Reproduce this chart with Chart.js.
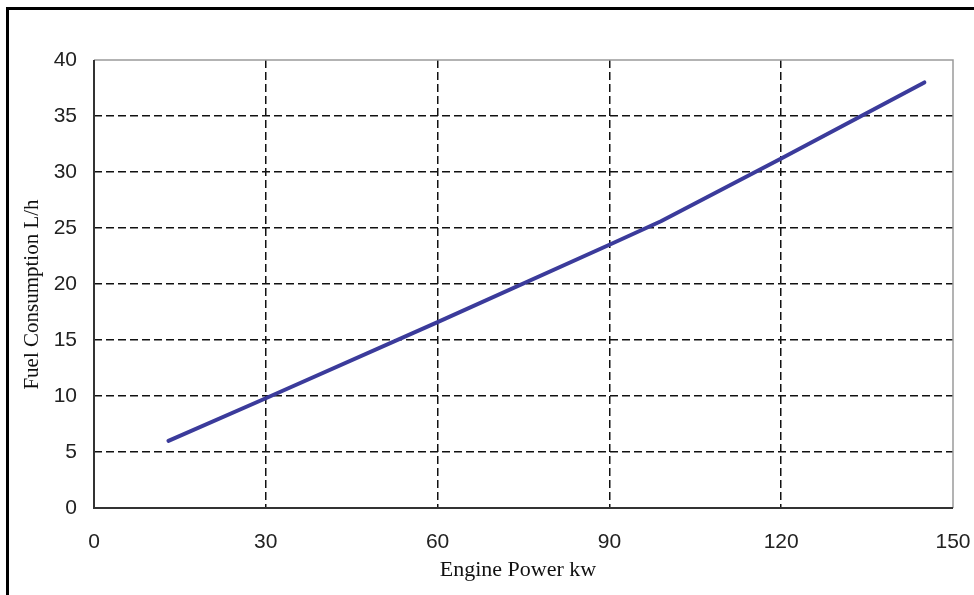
<!DOCTYPE html>
<html>
<head>
<meta charset="utf-8">
<script src="https://cdn.jsdelivr.net/npm/chart.js@4.4.1/dist/chart.umd.min.js"></script>
<style>
  html, body { margin: 0; padding: 0; background: #fff; overflow: hidden; }
  #frame { position: absolute; left: 6px; top: 7px; width: 990px; height: 610px;
           border-left: 3px solid #000; border-top: 3px solid #000; }
  #wrap { position: absolute; left: 0; top: 0; width: 974px; height: 595px; }
</style>
</head>
<body>
<div id="frame"></div>
<div id="wrap"><canvas id="c" width="974" height="595"></canvas></div>
<script>
const enginePower = [13, 30, 60, 90, 99, 120, 145];
const fuelConsumption = [6, 9.8, 16.6, 23.5, 25.6, 31.2, 38];
const xTicks = [0, 30, 60, 90, 120, 150];
const yTicks = [0, 5, 10, 15, 20, 25, 30, 35, 40];
const xTitle = 'Engine Power kw';
const yTitle = 'Fuel Consumption L/h';

const points = enginePower.map((p, i) => ({ x: p, y: fuelConsumption[i] }));

const plotFrame = {
  id: 'plotFrame',
  afterDraw(chart) {
    const { ctx, chartArea: a } = chart;
    ctx.save();
    ctx.strokeStyle = '#9a9a9a';
    ctx.lineWidth = 1.5;
    ctx.beginPath();
    ctx.moveTo(a.left, a.top);
    ctx.lineTo(a.right, a.top);
    ctx.lineTo(a.right, a.bottom);
    ctx.stroke();
    ctx.strokeStyle = '#333';
    ctx.lineWidth = 2;
    ctx.beginPath();
    ctx.moveTo(a.left, a.top);
    ctx.lineTo(a.left, a.bottom);
    ctx.lineTo(a.right, a.bottom);
    ctx.stroke();
    ctx.restore();
  }
};

const gridColor = (ctx, list) => {
  const v = ctx.tick ? ctx.tick.value : null;
  return (v === list[0] || v === list[list.length - 1]) ? 'rgba(0,0,0,0)' : '#111';
};

new Chart(document.getElementById('c'), {
  type: 'scatter',
  data: {
    datasets: [{
      data: points,
      showLine: true,
      borderColor: '#3b3b9b',
      backgroundColor: '#3b3b9b',
      borderWidth: 4,
      pointRadius: 0,
      borderCapStyle: 'round',
      borderJoinStyle: 'round',
      tension: 0
    }]
  },
  options: {
    responsive: false,
    devicePixelRatio: 1,
    animation: false,
    layout: { padding: { left: 20, top: 60, right: 21, bottom: 0 } },
    plugins: { legend: { display: false }, tooltip: { enabled: false } },
    scales: {
      x: {
        type: 'linear',
        min: xTicks[0], max: xTicks[xTicks.length - 1],
        afterBuildTicks: s => { s.ticks = xTicks.map(v => ({ value: v })); },
        afterFit: s => { s.height = 87; s.paddingLeft = 0; s.paddingRight = 0; },
        ticks: { font: { family: 'Liberation Sans', size: 21 }, color: '#222', padding: 22, maxRotation: 0 },
        grid: { drawTicks: false, color: c => gridColor(c, xTicks), lineWidth: 1.5 },
        border: { display: false, dash: [8, 4] },
        title: { display: true, text: xTitle + '  ', color: '#111',
                 font: { family: 'Liberation Serif', size: 22 }, padding: { top: 12, bottom: 12 } }
      },
      y: {
        type: 'linear',
        min: yTicks[0], max: yTicks[yTicks.length - 1],
        afterBuildTicks: s => { s.ticks = yTicks.map(v => ({ value: v })); },
        afterFit: s => { s.width = 74; s.paddingTop = 0; s.paddingBottom = 0; },
        ticks: { font: { family: 'Liberation Sans', size: 21 }, color: '#222', padding: 17 },
        grid: { drawTicks: false, color: c => gridColor(c, yTicks), lineWidth: 1.5 },
        border: { display: false, dash: [8, 4] },
        title: { display: true, text: yTitle + '    ', color: '#111',
                 font: { family: 'Liberation Serif', size: 21 }, padding: { top: 0, bottom: 0 } }
      }
    }
  },
  plugins: [plotFrame]
});
</script>
</body>
</html>
